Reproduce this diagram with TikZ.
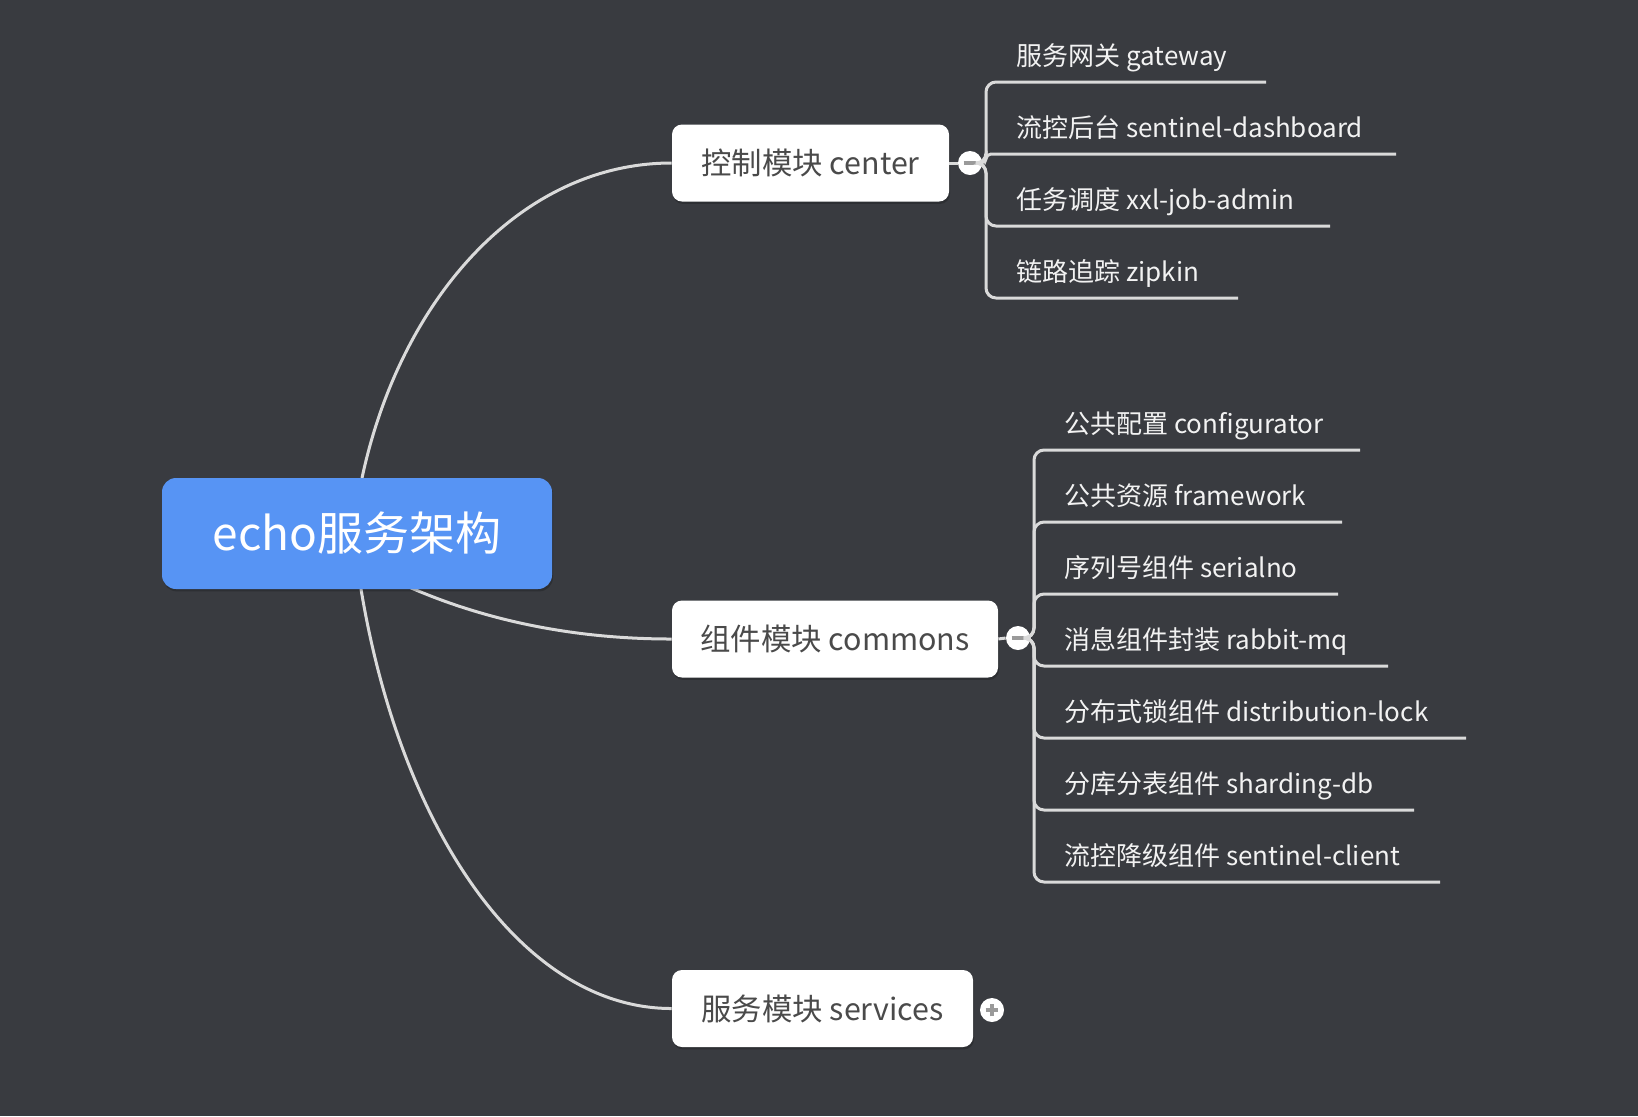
\documentclass[tikz,border=0pt]{standalone}
\usepackage{fontspec}
\setmainfont{Noto Sans CJK SC}
\usetikzlibrary{shadows}
\definecolor{bgcol}{HTML}{393B40}
\definecolor{rootblue}{HTML}{5794F4}
\definecolor{linecol}{HTML}{DADADA}
\definecolor{topictext}{HTML}{4A4A4A}
\definecolor{leaftext}{HTML}{F2F2F2}
\definecolor{foldmark}{HTML}{9A9A9A}
\tikzset{
  rootbox/.style={rounded corners=7pt, fill=rootblue, text=white, minimum width=195pt,
    minimum height=55.5pt, inner sep=0pt, font=\fontsize{23pt}{27pt}\selectfont,
    drop shadow={shadow xshift=0.5pt, shadow yshift=-1.2pt, opacity=0.2, fill=black}},
  topicbox/.style={rounded corners=5pt, fill=white, text=topictext, minimum height=38.5pt,
    inner sep=0pt, font=\fontsize{15.2pt}{18pt}\selectfont,
    drop shadow={shadow xshift=0.5pt, shadow yshift=-1.2pt, opacity=0.2, fill=black}},
  leaftxt/.style={anchor=base west, text=leaftext, inner sep=0pt, font=\fontsize{13pt}{16pt}\selectfont},
  foldbtn/.style={circle, fill=white, minimum size=12pt, inner sep=0pt},
  foldmk/.style={draw=foldmark, line width=1.6pt},
  conn/.style={draw=linecol, line width=1.5pt},
  branch/.style={conn, rounded corners=5pt}
}
\begin{document}
\begin{tikzpicture}[x=0.5pt,y=-0.5pt]
\fill[bgcol] (0,0) rectangle (1638,1116);

% main curves (drawn before boxes)
\coordinate (c1s) at (362,478);
\coordinate (c2s) at (400,583);
\coordinate (c3s) at (361,589);

\node[topicbox, minimum width=138.5pt] (center) at (810.5,163) {控制模块 center};
\node[topicbox, minimum width=163pt] (commons) at (835,639) {组件模块 commons};
\node[topicbox, minimum width=150.5pt] (services) at (822.5,1008.5) {服务模块 services};

\draw[conn] (c1s) .. controls (400,300) and (520,163) .. (center.west);
\draw[conn] (c2s) .. controls (470,615) and (560,639) .. (commons.west);
\draw[conn] (c3s) .. controls (400,825) and (520,1008.5) .. (services.west);

\node[rootbox] (root) at (357,533.5) {echo服务架构};

% fold buttons
\node[foldbtn] (f1) at (970,163) {};
\node[foldbtn] (f2) at (1018,638) {};
\node[foldbtn] (f3) at (992,1010) {};
\draw[conn] (center.east) -- (f1.west);
\draw[conn] (commons.east) -- (f2.west);
\draw[foldmk] ([xshift=-3.2pt]f1.center) -- ([xshift=3.2pt]f1.center);
\draw[foldmk] ([xshift=-3.2pt]f2.center) -- ([xshift=3.2pt]f2.center);
\draw[foldmk] ([xshift=-3.2pt]f3.center) -- ([xshift=3.2pt]f3.center);
\draw[foldmk] ([yshift=-3.2pt]f3.center) -- ([yshift=3.2pt]f3.center);

% center children
\coordinate (b1) at (986,163);
\coordinate (e11) at (1266,82);
\coordinate (e12) at (1396,154);
\coordinate (e13) at (1330,226);
\coordinate (e14) at (1238,298);
\draw[branch] (f1.east) -- (b1) -- (986,82) -- (e11);
\draw[branch, rounded corners=2.5pt] (f1.east) -- (b1) -- (986,154) -- (e12);
\draw[branch] (f1.east) -- (b1) -- (986,226) -- (e13);
\draw[branch] (f1.east) -- (b1) -- (986,298) -- (e14);
\node[leaftxt] (l11) at (1016,65) {服务网关 gateway};
\node[leaftxt] (l12) at (1016,137) {流控后台 sentinel-dashboard};
\node[leaftxt] (l13) at (1016,209) {任务调度 xxl-job-admin};
\node[leaftxt] (l14) at (1016,281) {链路追踪 zipkin};

% commons children
\coordinate (b2) at (1034,638);
\coordinate (e21) at (1360,450);
\coordinate (e22) at (1342,522);
\coordinate (e23) at (1338,594);
\coordinate (e24) at (1388,666);
\coordinate (e25) at (1466,738);
\coordinate (e26) at (1414,810);
\coordinate (e27) at (1440,882);
\draw[branch] (f2.east) -- (b2) -- (1034,450) -- (e21);
\draw[branch] (f2.east) -- (b2) -- (1034,522) -- (e22);
\draw[branch] (f2.east) -- (b2) -- (1034,594) -- (e23);
\draw[branch] (f2.east) -- (b2) -- (1034,666) -- (e24);
\draw[branch] (f2.east) -- (b2) -- (1034,738) -- (e25);
\draw[branch] (f2.east) -- (b2) -- (1034,810) -- (e26);
\draw[branch] (f2.east) -- (b2) -- (1034,882) -- (e27);
\node[leaftxt] (l21) at (1064,433) {公共配置 configurator};
\node[leaftxt] (l22) at (1064,505) {公共资源 framework};
\node[leaftxt] (l23) at (1064,577) {序列号组件 serialno};
\node[leaftxt] (l24) at (1064,649) {消息组件封装 rabbit-mq};
\node[leaftxt] (l25) at (1064,721) {分布式锁组件 distribution-lock};
\node[leaftxt] (l26) at (1064,793) {分库分表组件 sharding-db};
\node[leaftxt] (l27) at (1064,865) {流控降级组件 sentinel-client};
\end{tikzpicture}
\end{document}
